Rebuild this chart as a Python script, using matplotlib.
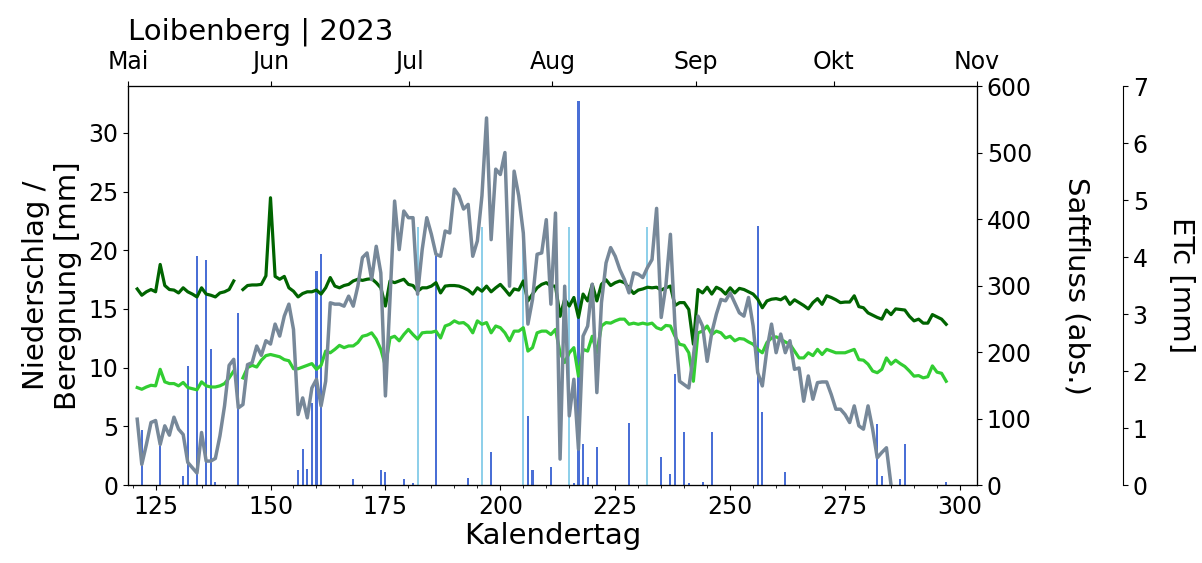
import matplotlib.pyplot as plt
import numpy as np

nan = np.nan

# Kalendertage der Tageswerte
days = np.arange(121, 298)

# ETc (zwei Varianten) in mm
etc_a = [3.44, 3.33, 3.39, 3.43, 3.39, 3.87, 3.50, 3.43, 3.42, 3.37,
         3.46, 3.39, 3.35, 3.30, 3.46, 3.35, 3.33, 3.30, 3.37, 3.39,
         3.43, 3.58, nan, 3.43, 3.50, 3.51, 3.51, 3.52, 3.67, 5.04,
         3.66, 3.61, 3.66, 3.46, 3.40, 3.30, 3.36, 3.39, 3.39, 3.42,
         3.35, 3.46, 3.64, 3.49, 3.46, 3.50, 3.52, 3.58, 3.61, 3.59,
         3.61, 3.62, 3.55, 3.46, 3.14, 3.58, 3.55, 3.58, 3.61, 3.52,
         3.50, 3.40, 3.46, 3.46, 3.49, 3.55, 3.37, 3.49, 3.50, 3.50,
         3.49, 3.46, 3.42, 3.35, 3.46, 3.40, 3.49, 3.39, 3.46, 3.52,
         3.43, 3.33, 3.44, 3.42, 3.58, 3.23, 3.35, 3.46, 3.52, 3.55,
         3.49, 3.49, 2.96, 3.26, 3.14, 3.29, 2.94, 3.35, 3.23, 3.52,
         3.23, 3.52, 3.60, 3.50, 3.55, 3.58, 3.55, 3.46, 3.36, 3.42,
         3.44, 3.47, 3.46, 3.47, 3.42, 3.46, 3.49, 3.15, 3.20, 3.20,
         3.08, 2.47, 3.43, 3.37, 3.47, 3.35, 3.47, 3.43, 3.35, 3.46,
         3.37, 3.45, 3.43, 3.39, 3.35, 3.26, 3.11, 3.23, 3.26, 3.27,
         3.25, 3.30, 3.17, 3.25, 3.20, 3.15, 3.09, 3.20, 3.27, 3.17,
         3.32, 3.29, 3.25, 3.20, 3.21, 3.21, 3.32, 3.13, 3.11, 3.02,
         2.98, 2.94, 2.91, 3.07, 2.99, 3.09, 3.08, 3.07, 2.96, 2.88,
         2.91, 2.84, 2.84, 2.99, 2.95, 2.91, 2.82]

etc_b = [1.71, 1.68, 1.72, 1.75, 1.74, 2.03, 1.81, 1.78, 1.78, 1.74,
         1.80, 1.71, 1.69, 1.67, 1.81, 1.74, 1.72, 1.72, 1.74, 1.78,
         1.88, 2.00, nan, 1.88, 2.06, 2.10, 2.07, 2.19, 2.27, 2.29,
         2.27, 2.25, 2.20, 2.18, 2.04, 2.04, 2.07, 2.10, 2.13, 2.03,
         2.10, 2.35, 2.32, 2.38, 2.45, 2.41, 2.44, 2.44, 2.50, 2.61,
         2.63, 2.67, 2.56, 2.38, 2.09, 2.58, 2.61, 2.53, 2.64, 2.73,
         2.64, 2.56, 2.67, 2.68, 2.68, 2.70, 2.58, 2.79, 2.82, 2.88,
         2.84, 2.85, 2.79, 2.67, 2.88, 2.82, 2.85, 2.67, 2.79, 2.76,
         2.67, 2.53, 2.70, 2.70, 2.76, 2.35, 2.41, 2.67, 2.70, 2.70,
         2.64, 2.73, 2.32, 2.15, 2.32, 2.41, 1.91, 2.38, 2.35, 2.61,
         2.32, 2.79, 2.85, 2.84, 2.88, 2.91, 2.91, 2.82, 2.84, 2.82,
         2.84, 2.82, 2.84, 2.76, 2.73, 2.80, 2.79, 2.61, 2.47, 2.45,
         2.32, 1.82, 2.67, 2.70, 2.79, 2.64, 2.70, 2.67, 2.58, 2.61,
         2.53, 2.57, 2.56, 2.51, 2.47, 2.38, 2.32, 2.50, 2.58, 2.60,
         2.56, 2.51, 2.47, 2.35, 2.23, 2.23, 2.32, 2.27, 2.38, 2.29,
         2.38, 2.35, 2.32, 2.32, 2.32, 2.35, 2.38, 2.20, 2.19, 2.12,
         2.00, 1.97, 2.03, 2.23, 2.12, 2.19, 2.13, 2.08, 2.00, 1.91,
         1.92, 1.88, 1.90, 2.09, 1.98, 1.96, 1.82]

# Saftfluss (absolut)
sapflow = [99, 31, 61, 94, 97, 61, 89, 75, 102, 84,
           76, 34, 26, 18, 79, 36, 36, 40, 74, 119,
           180, 189, 116, 121, 181, 184, 209, 195, 217, 212,
           242, 224, 254, 272, 234, 106, 131, 101, 146, 159,
           119, 156, 274, 272, 272, 269, 284, 269, 299, 342,
           349, 309, 359, 319, 134, 279, 427, 354, 412, 402,
           402, 287, 354, 402, 377, 347, 344, 382, 379, 445,
           435, 415, 422, 344, 367, 435, 552, 369, 475, 467,
           500, 299, 472, 435, 379, 242, 279, 347, 349, 399,
           272, 409, 39, 299, 104, 159, 54, 224, 239, 302,
           139, 274, 334, 357, 344, 324, 309, 289, 319, 317,
           312, 327, 339, 416, 252, 299, 377, 239, 156, 151,
           146, 194, 254, 239, 186, 229, 257, 279, 277, 289,
           274, 259, 254, 282, 239, 169, 149, 204, 242, 199,
           227, 199, 217, 174, 176, 126, 164, 129, 154, 155,
           155, 136, 114, 114, 106, 94, 119, 89, 84, 119,
           84, 41, 49, 56, 0] + [nan] * 12

# Niederschlag [mm]
rain_days = [122, 126, 131, 132, 134, 136, 137, 138, 143, 156, 157, 158,
             159, 160, 161, 168, 174, 175, 179, 181, 186, 193, 198, 206,
             207, 211, 216, 217, 218, 219, 221, 228, 235, 237, 238, 240,
             241, 244, 246, 256, 257, 262, 282, 283, 287, 288, 297]
rain_mm = [4.7, 3.3, 0.8, 10.1, 19.5, 19.2, 11.6, 0.3, 14.7, 1.3, 3.1, 1.4,
           7.0, 18.2, 19.7, 0.5, 1.3, 1.1, 0.5, 0.2, 19.5, 0.6, 2.8, 5.9,
           1.3, 1.5, 0.2, 32.7, 3.5, 0.7, 3.2, 5.3, 2.4, 0.9, 9.5, 4.5,
           0.2, 0.3, 4.5, 22.1, 6.2, 1.1, 5.2, 0.8, 0.5, 3.5, 0.3]

# Beregnung [mm]
irr_days = [182, 196, 205, 215, 232]
irr_mm = [22, 22, 22, 22, 22]

# Monatsanfaenge fuer die obere Achse (Tage ab 1. Mai)
month_pos = [0, 31, 61, 92, 123, 153, 184]
month_names = ["Mai", "Jun", "Jul", "Aug", "Sep", "Okt", "Nov"]

TICK = 17
LABEL = 21

fig = plt.figure(figsize=(12.02, 5.63), dpi=100)
ax = fig.add_axes([0.1065, 0.1385, 0.7063, 0.7087])

ax.bar(rain_days, rain_mm, width=0.45, color="#4a6fd6")
ax.bar(irr_days, irr_mm, width=0.45, color="#8fd0ea")
ax.set_xlim(119, 303.7)
ax.set_ylim(0, 34)
ax.set_xticks(np.arange(125, 301, 25))
ax.set_xticks(np.arange(120, 305, 5), minor=True)
ax.set_yticks(np.arange(0, 31, 5))
ax.tick_params(labelsize=TICK)
ax.set_xlabel("Kalendertag", fontsize=LABEL, labelpad=2)
ax.set_ylabel("Niederschlag /\nBeregnung [mm]", fontsize=LABEL)

# ETc auf eigener, nach aussen versetzter Achse
ax_etc = ax.twinx()
ax_etc.plot(days, etc_a, color="darkgreen", lw=2.3)
ax_etc.plot(days, etc_b, color="limegreen", lw=2.3)
ax_etc.set_ylim(0, 7)
ax_etc.spines["right"].set_position(("axes", 1.172))
for s in ["left", "top", "bottom"]:
    ax_etc.spines[s].set_visible(False)
ax_etc.tick_params(labelsize=TICK)
ax_etc.set_ylabel("ETc [mm]", fontsize=LABEL, rotation=270, labelpad=34)

# Saftfluss
ax_sf = ax.twinx()
ax_sf.plot(days, sapflow, color="lightslategray", lw=2.5)
ax_sf.set_ylim(0, 600)
ax_sf.set_yticks(np.arange(0, 601, 100))
ax_sf.tick_params(labelsize=TICK)
ax_sf.set_ylabel("Saftfluss (abs.)", fontsize=LABEL, rotation=270, labelpad=42)

# Monate oben
ax_top = ax.twiny()
ax_top.set_xlim(0, 184)
ax_top.set_xticks(month_pos)
ax_top.set_xticklabels(month_names)
ax_top.tick_params(labelsize=TICK, pad=5)
ax_top.set_title("Loibenberg | 2023", loc="left", fontsize=LABEL, pad=8)

fig.savefig("out.png", dpi=100)
